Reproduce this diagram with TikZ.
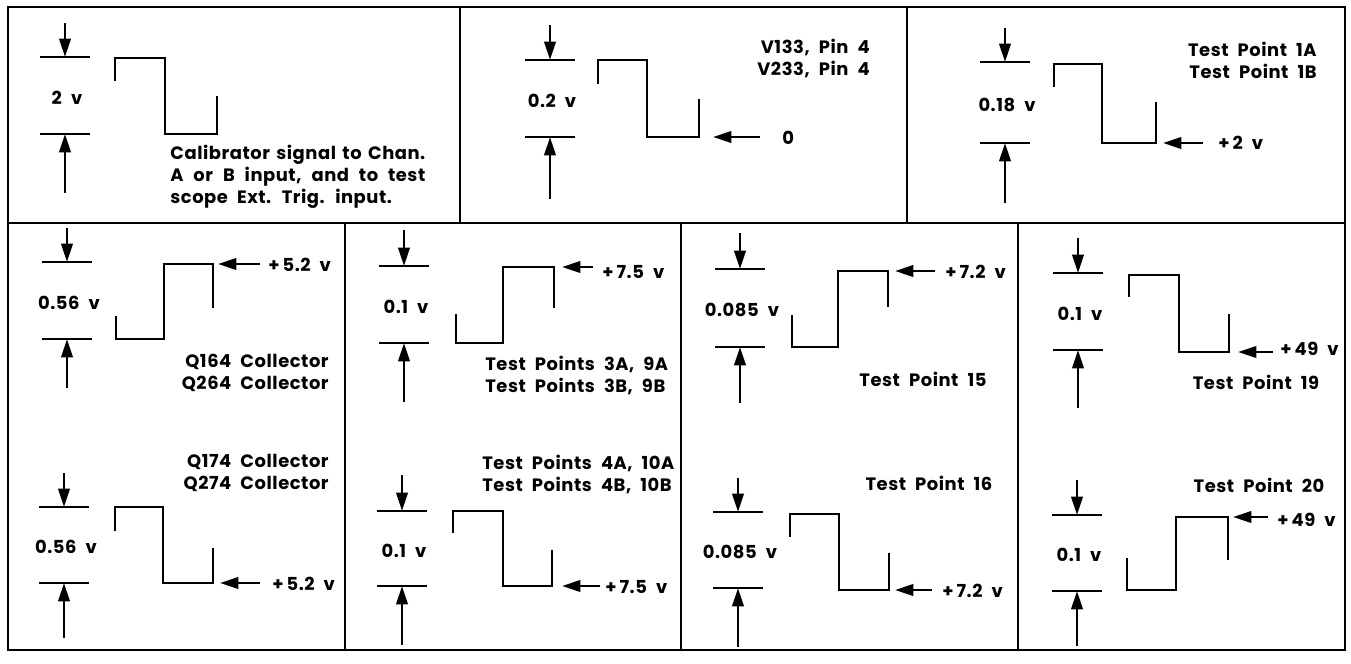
\documentclass[tikz,border=0pt]{standalone}
\usepackage{fontspec}
\setmainfont{Poppins}[WordSpace=2.1,LetterSpace=3]
\usetikzlibrary{arrows.meta}

\begin{document}
\begin{tikzpicture}[x=0.02cm,y=-0.02cm,line join=miter,
  frame/.style={line width=1.6pt},
  wave/.style={line width=1.2pt},
  bar/.style={line width=1.2pt},
  ptr/.style={line width=1.6pt,-{Triangle[length=10.5pt,width=6.5pt]}},
  txt/.style={inner sep=0pt,font=\fontsize{10.2}{12.5}\selectfont\bfseries}]
  \useasboundingbox (0,0) rectangle (1351,663);

  % ---- frame and panel dividers ----
  \draw[frame] (8,7) rectangle (1345,650);
  \draw[frame] (8,223) -- (1345,223);
  \foreach \x in {460,907} { \draw[frame] (\x,7) -- (\x,223); }
  \foreach \x in {345,681,1018} { \draw[frame] (\x,223) -- (\x,650); }

  % ---- amplitude markers (arrow, bar, label, bar, arrow) ----
  \foreach \x/\ya/\yb/\yc/\yd/\t [count=\i] in
     {65/23/57/134/193/2 v, 550/25/60/137/199/0.2 v, 1005/28/62/143/203/0.18 v,
      67/228/262/339/388/0.56 v, 64/473/507/583/638/0.56 v,
      404/230/266/343/402/0.1 v, 402/475/511/586/645/0.1 v,
      740/233/269/347/403/0.085 v, 738/478/512/588/647/0.085 v,
      1078/238/273/350/408/0.1 v, 1077/480/515/591/646/0.1 v} {
    \draw[bar] (\x-25,\yb) -- (\x+25,\yb);
    \draw[bar] (\x-25,\yc) -- (\x+25,\yc);
    \draw[ptr] (\x,\ya) -- (\x,\yb);
    \draw[ptr] (\x,\yd) -- (\x,\yc);
    \node[txt] (amp\i) at (\x+2,{(\yb+\yc)/2+2}) {\t};
  }

  % ---- square waves ----
  \foreach \xa/\ys/\yh/\xb/\yl/\xc/\ye in
     {115/81/58/165/134/217/96, 598/84/60/647/137/699/99,
      1054/87/64/1102/143/1156/102,
      116/316/339/164/264/213/308, 115/531/507/163/583/213/548,
      456/314/343/503/267/554/308, 453/533/511/503/586/552/550,
      792/315/347/838/271/888/307, 790/537/514/839/590/889/553,
      1129/297/275/1179/352/1229/314, 1127/558/590/1176/517/1228/560} {
    \draw[wave] (\xa,\ys) -- (\xa,\yh) -- (\xb,\yh) -- (\xb,\yl) -- (\xc,\yl) -- (\xc,\ye);
  }

  % ---- dc level pointers ----
  \foreach \xa/\xb/\y/\xl/\yl/\t [count=\i] in
     {760/713/137/782/138/0, 1203/1163/143/1218/143/+\,2 v,
      260/218/264/268/265/+\,5.2 v, 260/220/583/272/584/+\,5.2 v,
      593/562/267/602/272/+\,7.5 v, 600/562/586/605/587/+\,7.5 v,
      935/895/271/945/272/+\,7.2 v, 932/895/590/942/591/+\,7.2 v,
      1273/1238/352/1280/349/+\,49 v, 1268/1233/517/1277/520/+\,49 v} {
    \coordinate (tail\i) at (\xa,\y);
    \coordinate (tip\i) at (\xb,\y);
    \draw[ptr] (tail\i) -- (tip\i);
    \node[txt,anchor=west] (lev\i) at (\xl,\yl) {\t};
  }

  % ---- captions ----
  \node[txt,anchor=north west,text width=5.1cm,align=justify] (cal) at (170,145)
    {Calibrator signal to Chan.\linebreak A or B input, and to test\linebreak scope Ext. Trig. input.};
  \node[txt,align=right,anchor=east] (v133) at (870,58) {V133, Pin 4\\V233, Pin 4};
  \node[txt,align=right,anchor=east] (tp1) at (1317,60) {Test Point 1A\\Test Point 1B};
  \node[txt,align=right,anchor=east] (q164) at (329,373) {Q164 Collector\\Q264 Collector};
  \node[txt,align=right,anchor=east] (q174) at (329,473) {Q174 Collector\\Q274 Collector};
  \node[txt,align=left,anchor=west] (tp3) at (485,375) {Test Points 3A, 9A\\Test Points 3B, 9B};
  \node[txt,align=left,anchor=west] (tp4) at (482,474) {Test Points 4A, 10A\\Test Points 4B, 10B};
  \node[txt] (tp15) at (923,379) {Test Point 15};
  \node[txt] (tp16) at (929,483) {Test Point 16};
  \node[txt] (tp19) at (1256,382) {Test Point 19};
  \node[txt] (tp20) at (1259,485) {Test Point 20};
\end{tikzpicture}
\end{document}
